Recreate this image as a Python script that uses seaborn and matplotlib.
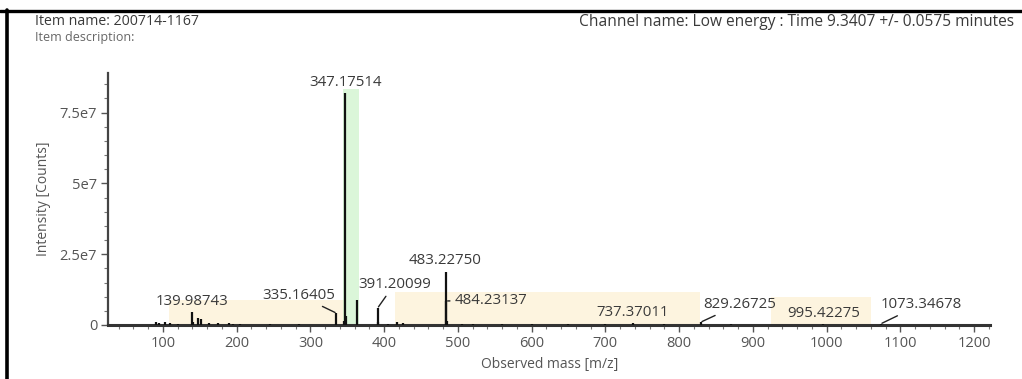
"""Mass spectrum (low energy channel) with labelled peaks."""
import matplotlib
matplotlib.use("Agg")
import matplotlib.pyplot as plt
from matplotlib.lines import Line2D
from matplotlib.ticker import MultipleLocator, FixedLocator, FixedFormatter
import seaborn as sns

# ---- data ----------------------------------------------------------------
peak_mz = [90, 95, 103, 110, 120, 139.98743, 141, 147, 152, 163, 175, 190,
           195, 205, 245, 285, 335.16405, 345, 347.17514, 348.2, 363,
           391.20099, 392.2, 405, 418, 425, 483.22750, 484.23137, 485.2,
           505, 520, 560, 600, 650, 700, 737.37011, 780, 829.26725, 870,
           995.42275, 1073.34678]
peak_int = [0.12e7, 0.08e7, 0.10e7, 0.06e7, 0.05e7, 0.45e7, 0.12e7, 0.25e7,
            0.20e7, 0.08e7, 0.06e7, 0.07e7, 0.05e7, 0.03e7, 0.02e7, 0.02e7,
            0.42e7, 0.15e7, 8.2e7, 0.30e7, 0.88e7, 0.60e7, 0.10e7, 0.05e7,
            0.12e7, 0.06e7, 1.87e7, 0.85e7, 0.15e7, 0.05e7, 0.04e7, 0.03e7,
            0.02e7, 0.02e7, 0.02e7, 0.08e7, 0.02e7, 0.10e7, 0.02e7, 0.03e7,
            0.04e7]

label_mz = [139.98743, 335.16405, 347.17514, 391.20099, 483.22750,
            484.23137, 737.37011, 829.26725, 995.42275, 1073.34678]
label_text = ["139.98743", "335.16405", "347.17514", "391.20099", "483.22750",
              "484.23137", "737.37011", "829.26725", "995.42275", "1073.34678"]

y_ticks = [0, 2.5e7, 5e7, 7.5e7]
y_tick_labels = ["0", "2.5e7", "5e7", "7.5e7"]
x_ticks = [100, 200, 300, 400, 500, 600, 700, 800, 900, 1000, 1100, 1200]

# highlighted windows (m/z start, m/z end, height)
yellow_lo = [108, 415, 925]
yellow_hi = [345, 828, 1060]
yellow_h = [0.88e7, 1.16e7, 1.0e7]
green_lo, green_hi, green_h = 344, 366, 8.35e7

header_left = ["Item name: 200714-1167", "Item description:"]
header_right = "Channel name: Low energy : Time 9.3407 +/- 0.0575 minutes"

# ---- label layout (offset in points from peak top, alignment, leader) ----
label_layout = {
    "139.98743": ((0, 2), "center", "bottom", False),
    "335.16405": ((-27, 13), "center", "center", True),
    "347.17514": ((0, 2), "center", "bottom", False),
    "391.20099": ((12, 17), "center", "center", True),
    "483.22750": ((0, 3), "center", "bottom", False),
    "484.23137": ((6, 0), "left", "center", True),
    "737.37011": ((0, 2), "center", "bottom", False),
    "829.26725": ((28, 13), "center", "center", True),
    "995.42275": ((0, 2), "center", "bottom", False),
    "1073.34678": ((29, 14), "center", "center", True),
}

sns.set_theme(style="ticks")
plt.rcParams["font.family"] = ["Open Sans", "DejaVu Sans"]

TXT = "#3a3a3a"
fig = plt.figure(figsize=(10.22, 3.79), dpi=100)
ax = fig.add_axes([0.106, 0.1425, 0.863, 0.665])

for lo, hi, h in zip(yellow_lo, yellow_hi, yellow_h):
    ax.fill_between([lo, hi], 0, h, color="#fdebc0", alpha=0.5, lw=0, zorder=0)
ax.fill_between([green_lo, green_hi], 0, green_h, color="#c4f0c0", alpha=0.6,
                lw=0, zorder=0)

ax.vlines(peak_mz, 0, peak_int, color="#111111", lw=1.6, zorder=3)

lookup = dict(zip(peak_mz, peak_int))
for mz, txt in zip(label_mz, label_text):
    (dx, dy), ha, va, leader = label_layout[txt]
    kw = {}
    if leader:
        kw["arrowprops"] = dict(arrowstyle="-", color="#222222", lw=1.0,
                                shrinkA=1, shrinkB=1)
    ax.annotate(txt, xy=(mz, lookup[mz]), xytext=(dx, dy),
                textcoords="offset points", ha=ha, va=va, fontsize=10.8,
                color=TXT, zorder=4, **kw)

ax.set_xlim(26, 1222)
ax.set_ylim(0, 8.9e7)
ax.xaxis.set_major_locator(FixedLocator(x_ticks))
ax.xaxis.set_minor_locator(MultipleLocator(20))
ax.yaxis.set_major_locator(FixedLocator(y_ticks))
ax.yaxis.set_major_formatter(FixedFormatter(y_tick_labels))
ax.yaxis.set_minor_locator(MultipleLocator(0.5e7))
ax.tick_params(axis="both", which="major", length=5, width=1, color="#555555",
               labelsize=10.5, labelcolor="#555555", pad=3)
ax.tick_params(axis="both", which="minor", length=3, width=0.8, color="#777777")

sns.despine(ax=ax)
ax.spines["left"].set_color("#444444")
ax.spines["left"].set_linewidth(1.6)
ax.spines["bottom"].set_color("#333333")
ax.spines["bottom"].set_linewidth(2.2)

ax.set_xlabel("Observed mass [m/z]", fontsize=10, color="#555555", labelpad=4)
ax.set_ylabel("Intensity [Counts]", fontsize=10, color="#555555", labelpad=6)

fig.text(0.034, 0.942, header_left[0], fontsize=10.2, color=TXT, va="center")
fig.text(0.034, 0.902, header_left[1], fontsize=9, color="#666666", va="center")
fig.text(0.992, 0.942, header_right, fontsize=11.2, color=TXT, va="center",
         ha="right")

# frame of the screenshot
fig.add_artist(Line2D([0, 1], [0.972, 0.972], color="black", lw=2.4,
                      transform=fig.transFigure))
fig.add_artist(Line2D([0.0068, 0.0068], [0, 0.974], color="black", lw=2.6,
                      transform=fig.transFigure))

fig.savefig("out.png", dpi=100, facecolor="white")
